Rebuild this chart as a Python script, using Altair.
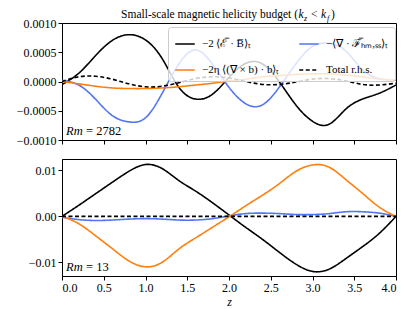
import altair as alt
import pandas as pd

z = [round(0.2 * i, 1) for i in range(21)]

# Top panel (Rm = 2782)
top_eb = [-0.00005, 0.00014, 0.00044, 0.0007, 0.0008, 0.00071, 0.00039, -0.0001, -0.0003, -0.00022,
          0.00007, 0.00031, 0.0003, 0.0, -0.0004, -0.00068, -0.00073, -0.00047, -0.0003, -0.0002, -0.00006]
top_flux = [0.00002, -0.00006, -0.0003, -0.00058, -0.00069, -0.00062, -0.0002, 0.0003, 0.00054, 0.0003,
            -0.0001, -0.00038, -0.0004, -0.0001, 0.0003, 0.0006, 0.00065, 0.00052, 0.0002, 0.00005, 0.00002]
top_eta = [0.0, -0.00004, -0.00008, -0.00011, -0.00012, -0.00012, -0.00011, -0.00009, -0.00006, -0.00003,
           0.00001, 0.00004, 0.00008, 0.0001, 0.00012, 0.00013, 0.00013, 0.00011, 0.00008, 0.00004, 0.00002]
top_tot = [0.0, 0.00008, 0.00009, 0.00004, -0.00004, -0.00009, -0.00008, -0.00002, 0.00005, 0.00008,
           0.00006, 0.0, -0.00005, -0.00005, -0.00001, 0.00004, 0.00005, 0.00001, -0.00005, -0.00006, -0.00003]

# Bottom panel (Rm = 13)
bot_eb = [0.0, 0.0024, 0.0049, 0.0074, 0.0098, 0.0113, 0.0104, 0.0078, 0.0055, 0.0030,
          0.0003, -0.0024, -0.0050, -0.0078, -0.0104, -0.0120, -0.0115, -0.0092, -0.0066, -0.0037, 0.0]
bot_flux = [-0.0002, -0.0007, -0.0009, -0.0008, -0.0006, -0.0005, -0.0006, -0.0008, -0.0008, -0.0005,
            0.0001, 0.0006, 0.0007, 0.0006, 0.0004, 0.0004, 0.0006, 0.0010, 0.0010, 0.0007, 0.0]
bot_eta = [0.0, -0.0016, -0.0042, -0.0070, -0.0097, -0.0110, -0.0100, -0.0071, -0.0047, -0.0024,
           -0.0001, 0.0023, 0.0046, 0.0071, 0.0098, 0.0112, 0.0107, 0.0080, 0.0050, 0.0020, 0.0]
bot_tot = [0.0] * 21

n_eb = "−2 ⟨ℰ̅ · B̅⟩ₜ"
n_eta = "−2η ⟨(∇ × b) · b⟩ₜ"
n_flux = "−⟨∇ · ℱ̅ₕₘ,ₛₛ⟩ₜ"
n_tot = "Total r.h.s."
names = [n_eb, n_eta, n_flux, n_tot]          # legend order (column-major)
colors = ["#000000", "#ff7f0e", "#5274f6", "#000000"]
dashes = [[1, 0], [1, 0], [1, 0], [4, 2.5]]
widths = [1.6, 1.6, 1.6, 1.1]
draw_order = [n_tot, n_eta, n_flux, n_eb]

FONT = "Liberation Serif"
W, H = 334, 117


def frame(pairs):
    rows = []
    for name, vals in pairs:
        for zz, v in zip(z, vals):
            rows.append({"z": zz, "v": v, "s": name, "ord": draw_order.index(name)})
    return pd.DataFrame(rows)


df_top = frame([(n_eb, top_eb), (n_flux, top_flux), (n_eta, top_eta), (n_tot, top_tot)])
df_bot = frame([(n_eb, bot_eb), (n_flux, bot_flux), (n_eta, bot_eta), (n_tot, bot_tot)])


def txt(s, x, y, size=12, style="normal", align="left"):
    return alt.Chart(pd.DataFrame({"t": [s]})).mark_text(
        font=FONT, fontSize=size, fontStyle=style, align=align, baseline="alphabetic", color="black"
    ).encode(x=alt.value(x), y=alt.value(y), text="t:N")


def panel(df, domain, ticks, fmt, show_x, label, legend, with_title):
    xaxis = alt.Axis(values=[0, 0.5, 1, 1.5, 2, 2.5, 3, 3.5, 4], format=".1f",
                     labels=show_x, title="z" if show_x else None, grid=False,
                     tickColor="black", domainColor="black", tickSize=4, labelPadding=2,
                     labelFont=FONT, labelFontSize=12, labelColor="black",
                     titleFont=FONT, titleFontStyle="italic", titleFontWeight="normal",
                     titleFontSize=12, titleColor="black", titlePadding=3)
    yaxis = alt.Axis(values=ticks, format=fmt, grid=False, title=None,
                     tickColor="black", domainColor="black", tickSize=4, labelPadding=2,
                     labelFont=FONT, labelFontSize=12, labelColor="black")
    if legend:
        leg = alt.Legend(title=None, orient="none", legendX=106, legendY=4, columns=2,
                         symbolType="stroke", symbolSize=380, symbolStrokeWidth=1.6,
                         labelFont=FONT, labelFontSize=11, labelColor="black",
                         fillColor="rgba(255,255,255,0.8)", strokeColor="#cccccc",
                         cornerRadius=3, padding=6, columnPadding=16, rowPadding=10,
                         labelLimit=200, labelOffset=6)
    else:
        leg = None
    enc = dict(
        x=alt.X("z:Q", scale=alt.Scale(domain=[0, 4], nice=False), axis=xaxis),
        y=alt.Y("v:Q", scale=alt.Scale(domain=domain, nice=False, zero=False), axis=yaxis),
        color=alt.Color("s:N", scale=alt.Scale(domain=names, range=colors), sort=names,
                        legend=leg),
        strokeDash=alt.StrokeDash("s:N", scale=alt.Scale(domain=names, range=dashes), sort=names,
                                  legend=leg),
        strokeWidth=alt.StrokeWidth("s:N", scale=alt.Scale(domain=names, range=widths),
                                    legend=None),
        order=alt.Order("ord:Q"),
    )
    lines = alt.Chart(df).mark_line(clip=True, interpolate="natural").encode(**enc).properties(
        width=W, height=H)
    layers = [lines, txt("Rm", 4, H - 5, 12.5, "italic"), txt("= " + label, 24, H - 5, 12.5)]
    if with_title:
        x0 = 236
        ty = -5
        layers += [
            txt("Small-scale magnetic helicity budget (", x0, ty, 11.5, align="right"),
            txt("k", x0 + 0.5, ty, 11.5, "italic"),
            txt("z", x0 + 6, ty + 2.5, 8, "italic"),
            txt("<", x0 + 13, ty, 11.5),
            txt("k", x0 + 23, ty, 11.5, "italic"),
            txt("f", x0 + 29, ty + 2.5, 8, "italic"),
            txt(")", x0 + 33, ty, 11.5),
        ]
    return alt.layer(*layers)


top = panel(df_top, [-0.001, 0.001], [-0.001, -0.0005, 0, 0.0005, 0.001], ".4f", False, "2782", True, True)
bot = panel(df_bot, [-0.013, 0.0125], [-0.01, 0, 0.01], ".2f", True, "13", False, False)

chart = alt.vconcat(top, bot, spacing=11).properties(
    padding={"left": 7, "top": 0, "right": 0, "bottom": 0},
).configure_view(stroke="black", strokeWidth=1).resolve_scale(color="independent", strokeDash="independent")

chart.save("out.html", embed_options={"renderer": "svg", "actions": False})
